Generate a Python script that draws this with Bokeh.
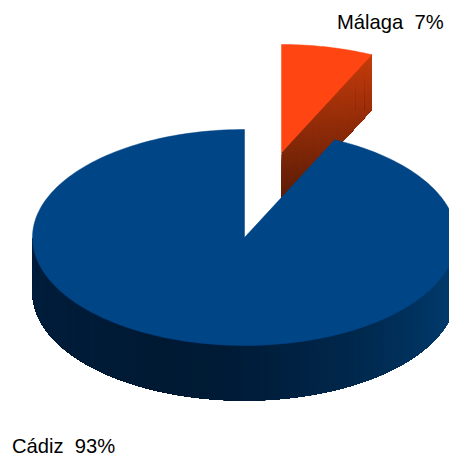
import math
from bokeh.plotting import figure
from bokeh.models import Range1d
from bokeh.core.properties import value
from bokeh.embed import file_html
from bokeh.resources import INLINE

categories = ["Málaga", "Cádiz"]
shares = [7, 93]
labels = ["Málaga\u00a0\u00a07%", "Cádiz\u00a0\u00a093%"]
top_colors = ["#FF4512", "#004586"]

CX, CY, RX, RY, DEPTH, EXPLODE_X, EXPLODE_Y = 244.0, 237.0, 212.0, 108.0, 55.0, 37.0, -85.0

def pt(deg, cx=CX, cy=CY):
    a = math.radians(deg)
    return cx + RX * math.sin(a), cy - RY * math.cos(a)

def mix(c1, c2, t):
    t = max(0.0, min(1.0, t))
    return "#%02x%02x%02x" % tuple(round(a + (b - a) * t) for a, b in zip(c1, c2))

p = figure(width=449, height=459, output_backend="svg", toolbar_location=None,
           x_range=Range1d(0, 449), y_range=Range1d(459, 0), min_border=0,
           background_fill_color="white", border_fill_color="white", outline_line_color=None)
p.axis.visible = False
p.grid.visible = False

sweep = shares[0] * 3.6
mcx = CX + EXPLODE_X
mcy = CY + EXPLODE_Y

# Málaga wall, shaded cell by cell; every cell overlaps the next one
a_x, a_y = mcx, mcy
b_x, b_y = pt(sweep, mcx, mcy)
N, M = 40, 20
xs, ys, cols = [], [], []
corner = lambda u, v: (a_x + (b_x - a_x) * u, a_y + (b_y - a_y) * u + DEPTH * v)
for i in range(N):
    for j in range(M):
        u0, u1 = i / N, 1.0
        v0, v1 = j / M, 1.0
        q = [corner(u0, v0), corner(u1, v0), corner(u1, v1), corner(u0, v1)]
        xs.append([c[0] for c in q])
        ys.append([c[1] for c in q])
        t = (1 - (i + 0.5) / N) * 0.62 + (j + 0.5) / M * 0.38
        cols.append(mix((198, 60, 12), (82, 26, 6), t))
p.patches(xs, ys, fill_color=cols, line_color=None)

# Málaga top
arc = [pt(sweep * k / 40, mcx, mcy) for k in range(41)]
p.patch([mcx] + [c[0] for c in arc], [mcy] + [c[1] for c in arc],
        fill_color=top_colors[0], line_color=top_colors[0], line_width=0.5)

# Cádiz wall, shaded by angle; painted as shrinking overlapping bands
stops = [(90, (0, 62, 116)), (115, (0, 56, 104)), (150, (0, 40, 76)), (185, (0, 27, 54)), (205, (0, 26, 52)), (270, (0, 31, 62))]
def wall(deg):
    for (d0, c0), (d1, c1) in zip(stops, stops[1:]):
        if d0 <= deg <= d1:
            return mix(c0, c1, (deg - d0) / (d1 - d0))
    return mix(stops[-1][1], stops[-1][1], 0)
xs, ys, cols = [], [], []
for k in range(0, 360):
    d = 90 + k * 0.5
    arc = [pt(d + (270 - d) * m / 60) for m in range(61)]
    xs.append([c[0] for c in arc] + [c[0] for c in reversed(arc)])
    ys.append([c[1] for c in arc] + [c[1] + DEPTH for c in reversed(arc)])
    cols.append(wall(d + 0.25))
p.patches(xs, ys, fill_color=cols, line_color=None)

# Cádiz top
arc = [pt(sweep + (360 - sweep) * k / 240) for k in range(241)]
p.patch([CX] + [c[0] for c in arc], [CY] + [c[1] for c in arc],
        fill_color=top_colors[1], line_color=top_colors[1], line_width=0.5)

p.text([336.5, 11.5], [21, 445], text=labels, text_font=value("Liberation Sans"),
       text_font_size="20.2px", text_color="#000000", text_align="left", text_baseline="middle")

open("out.html", "w").write(file_html(p, INLINE))
